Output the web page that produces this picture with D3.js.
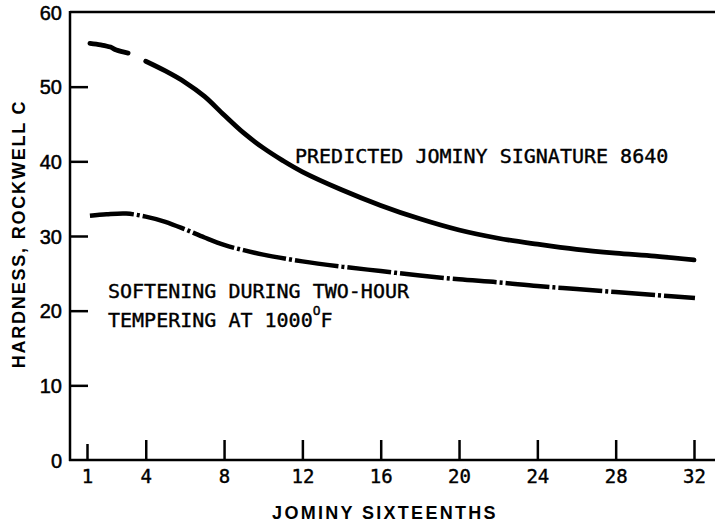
<!DOCTYPE html>
<html>
<head>
<meta charset="utf-8">
<script src="https://cdn.jsdelivr.net/npm/d3@7"></script>
<style>
  html, body { margin: 0; padding: 0; background: #fff; }
  svg { display: block; }
</style>
</head>
<body>
<svg id="chart" width="715" height="524"></svg>
<script>
// Jominy distance in sixteenths of an inch
const xTicks = [1, 4, 8, 12, 16, 20, 24, 28, 32];
const yTicks = [0, 10, 20, 30, 40, 50, 60];

// Predicted Jominy signature, 8640 steel (null marks the break in the drawn curve)
const predictedPos = [1.15, 1.7, 2.2, 2.5, 3.1, 3.55, 4.0, 5, 6, 7, 8, 9, 10, 11, 12, 14, 16, 18, 20, 22, 24, 26, 28, 30, 32];
const predictedHrc = [55.8, 55.6, 55.3, 54.9, 54.5, null, 53.4, 52.1, 50.6, 48.7, 46.2, 43.8, 41.8, 40.1, 38.6, 36.2, 34.1, 32.3, 30.8, 29.7, 28.9, 28.2, 27.7, 27.3, 26.8];

// Hardness after tempering two hours at 1000 F
const temperedPos = [1.15, 2, 3, 4, 5, 6, 7, 8, 9, 10, 12, 14, 16, 18, 20, 22, 24, 26, 28, 30, 32.05];
const temperedHrc = [32.7, 32.9, 33.0, 32.6, 31.9, 30.9, 29.8, 28.8, 28.1, 27.5, 26.6, 25.9, 25.3, 24.7, 24.2, 23.8, 23.3, 22.9, 22.5, 22.1, 21.7];

const svg = d3.select("#chart");
const frameLeft = 70, frameRight = 715, frameTop = 12, frameBottom = 460;

const x = d3.scaleLinear().domain([1, 32]).range([87, 694]);
const y = d3.scaleLinear().domain([0, 60]).range([frameBottom, frameTop]);

const mono = "'DejaVu Sans Mono', 'Liberation Mono', monospace";
const sans = "'Liberation Sans', Arial, Helvetica, sans-serif";

// frame: top rule, left and bottom axis lines
svg.append("line").attr("x1", frameLeft).attr("x2", frameRight).attr("y1", frameTop).attr("y2", frameTop)
  .attr("stroke", "#000").attr("stroke-width", 2.5);
svg.append("line").attr("x1", frameLeft).attr("x2", frameLeft).attr("y1", frameTop - 1).attr("y2", frameBottom + 1)
  .attr("stroke", "#000").attr("stroke-width", 2.5);
svg.append("line").attr("x1", frameLeft - 1).attr("x2", frameRight).attr("y1", frameBottom).attr("y2", frameBottom)
  .attr("stroke", "#000").attr("stroke-width", 2.5);

// y axis: inward ticks
const yAxis = svg.append("g").attr("transform", `translate(${frameLeft},0)`)
  .call(d3.axisLeft(y).tickValues(yTicks).tickSize(-18).tickPadding(8));
yAxis.select(".domain").remove();
yAxis.selectAll(".tick line").attr("stroke", "#000").attr("stroke-width", 2.5)
  .filter(d => d === 0 || d === 60).remove();
yAxis.selectAll(".tick text").attr("font-family", sans).attr("font-size", 20)
  .attr("fill", "#000").attr("stroke", "#000").attr("stroke-width", 0.5).attr("dy", "0.36em");

// x axis: upward ticks
const xAxis = svg.append("g").attr("transform", `translate(0,${frameBottom})`)
  .call(d3.axisBottom(x).tickValues(xTicks).tickSize(-20).tickPadding(10));
xAxis.select(".domain").remove();
xAxis.selectAll(".tick line").attr("stroke", "#000").attr("stroke-width", 2.5)
  .filter(d => d === 1).attr("y2", -16);
xAxis.selectAll(".tick text").attr("font-family", mono).attr("font-size", 19)
  .attr("fill", "#000").attr("stroke", "#000").attr("stroke-width", 0.4);

// curves
const line = d3.line()
  .defined(d => d[1] !== null)
  .x(d => x(d[0]))
  .y(d => y(d[1]))
  .curve(d3.curveCatmullRom.alpha(0.5));

svg.append("path")
  .datum(d3.zip(predictedPos, predictedHrc))
  .attr("d", line)
  .attr("fill", "none").attr("stroke", "#000").attr("stroke-width", 4.8)
  .attr("stroke-linecap", "round").attr("stroke-linejoin", "round");

svg.append("path")
  .datum(d3.zip(temperedPos, temperedHrc))
  .attr("d", line)
  .attr("fill", "none").attr("stroke", "#000").attr("stroke-width", 4.5)
  .attr("stroke-dasharray", "44,3,3,3")
  .attr("stroke-linejoin", "round");

// annotations
const note = sel => sel.attr("font-family", mono).attr("font-size", 20)
  .attr("fill", "#000").attr("stroke", "#000").attr("stroke-width", 0.4);

svg.append("text").attr("x", 295).attr("y", 163).call(note)
  .text("PREDICTED JOMINY SIGNATURE 8640");

svg.append("text").attr("x", 108).attr("y", 298).call(note)
  .text("SOFTENING DURING TWO-HOUR");

const t2 = svg.append("text").attr("x", 108).attr("y", 327).call(note);
t2.append("tspan").text("TEMPERING AT 1000");
t2.append("tspan").attr("dy", -12).attr("font-size", 13).text("O");
t2.append("tspan").attr("dy", 12).text("F");

// axis titles
svg.append("text").attr("x", 385).attr("y", 519).attr("text-anchor", "middle")
  .attr("font-family", sans).attr("font-weight", "bold").attr("font-size", 18)
  .attr("letter-spacing", 2.3).attr("fill", "#000")
  .text("JOMINY SIXTEENTHS");

svg.append("text").attr("transform", "translate(25,234) rotate(-90)").attr("text-anchor", "middle")
  .attr("font-family", sans).attr("font-weight", "bold").attr("font-size", 18)
  .attr("letter-spacing", 1.8).attr("fill", "#000")
  .text("HARDNESS, ROCKWELL C");
</script>
</body>
</html>
